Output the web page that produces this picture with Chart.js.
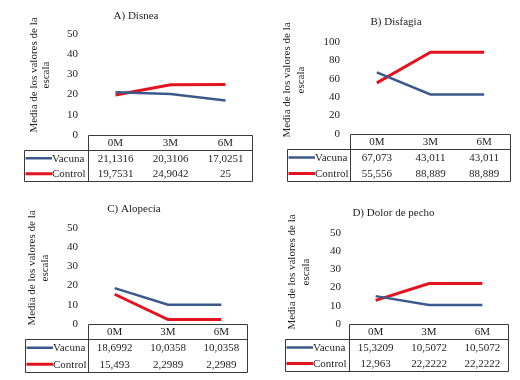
<!DOCTYPE html>
<html>
<head>
<meta charset="utf-8">
<script src="https://cdn.jsdelivr.net/npm/chart.js@4/dist/chart.umd.min.js"></script>
<style>
  html, body { margin: 0; padding: 0; background: #ffffff; }
  #wrap { position: relative; width: 520px; height: 380px; background: #fff; }
  canvas { position: absolute; }
</style>
</head>
<body>
<div id="wrap">
  <canvas id="cA" width="260" height="190" style="left:0;top:0"></canvas>
  <canvas id="cB" width="260" height="190" style="left:260px;top:0"></canvas>
  <canvas id="cC" width="260" height="190" style="left:0;top:190px"></canvas>
  <canvas id="cD" width="260" height="190" style="left:260px;top:190px"></canvas>
</div>
<script>
// ---- data ----
const months = ['0M', '3M', '6M'];
const seriesNames = ['Vacuna', 'Control'];
const panelTitles = ['A) Disnea', 'B) Disfagia', 'C) Alopecia', 'D) Dolor de pecho'];
const yAxisTitle = ['Media de los valores de la', 'escala'];
const yMax = [50, 100, 50, 50];
const yStep = [10, 20, 10, 10];

const vacunaDisnea = [21.1316, 20.3106, 17.0251];
const controlDisnea = [19.7531, 24.9042, 25];
const vacunaDisfagia = [67.073, 43.011, 43.011];
const controlDisfagia = [55.556, 88.889, 88.889];
const vacunaAlopecia = [18.6992, 10.0358, 10.0358];
const controlAlopecia = [15.493, 2.2989, 2.2989];
const vacunaDolor = [15.3209, 10.5072, 10.5072];
const controlDolor = [12.963, 22.2222, 22.2222];

// ---- styling / layout ----
const FONT = '"Liberation Serif", "Times New Roman", serif';
const TXT = '#1e1e1e';
const BLUE = '#3b5a8b';
const RED = '#e3131f';
const LINE = '#3a3a3a';

const panels = [
  { id: 'cA', vac: vacunaDisnea, ctl: controlDisnea,
    area: { left: 88, right: 253, top: 34, bottom: 135 }, titleY: 16, titleCx: 136,
    yt: { x1: 34, x2: 46, cy: 75 }, tickGap: 10, tableLeft: 24, tableBottom: 181 },
  { id: 'cB', vac: vacunaDisfagia, ctl: controlDisfagia,
    area: { left: 90, right: 251, top: 42, bottom: 134 }, titleY: 22, titleCx: 136,
    yt: { x1: 27, x2: 41, cy: 80 }, tickGap: 10, tableLeft: 27, tableBottom: 181 },
  { id: 'cC', vac: vacunaAlopecia, ctl: controlAlopecia,
    area: { left: 88, right: 248, top: 38, bottom: 134 }, titleY: 19, titleCx: 134,
    yt: { x1: 32, x2: 45, cy: 78 }, tickGap: 10, tableLeft: 25, tableBottom: 182 },
  { id: 'cD', vac: vacunaDolor, ctl: controlDolor,
    area: { left: 89, right: 249, top: 43, bottom: 134 }, titleY: 23, titleCx: 133.5,
    yt: { x1: 32, x2: 46, cy: 82 }, tickGap: 8, tableLeft: 25, tableBottom: 181 }
];

function fmt(v) { return String(v).replace('.', ','); }

function makeExtras(p) {
  return {
    id: 'extras_' + p.id,
    afterDraw(chart) {
      const ctx = chart.ctx;
      const ca = chart.chartArea;
      const xs = chart.scales.x;
      ctx.save();
      // y-axis title (two rotated lines)
      ctx.fillStyle = TXT;
      ctx.font = '11px ' + FONT;
      ctx.textAlign = 'center';
      ctx.textBaseline = 'middle';
      [p.yt.x1, p.yt.x2].forEach((x, i) => {
        ctx.save();
        ctx.translate(x, p.yt.cy);
        ctx.rotate(-Math.PI / 2);
        ctx.fillText(yAxisTitle[i], 0, 0);
        ctx.restore();
      });

      // data table
      const top = Math.round(ca.bottom) + 0.5;
      const bottom = p.tableBottom + 0.5;
      const headBottom = top + 15;
      const left = Math.round(ca.left) + 0.5;
      const right = Math.round(ca.right) - 0.5;
      const tLeft = p.tableLeft + 0.5;
      ctx.strokeStyle = LINE;
      ctx.lineWidth = 1;
      ctx.beginPath();
      ctx.moveTo(left, top); ctx.lineTo(right, top);
      ctx.moveTo(left, top); ctx.lineTo(left, bottom);
      ctx.moveTo(right, top); ctx.lineTo(right, bottom);
      ctx.moveTo(tLeft, headBottom); ctx.lineTo(right, headBottom);
      ctx.moveTo(tLeft, headBottom); ctx.lineTo(tLeft, bottom);
      ctx.moveTo(tLeft, bottom); ctx.lineTo(right, bottom);
      ctx.stroke();

      const rowH = (bottom - headBottom) / 2;
      const headY = (top + headBottom) / 2 + 0.5;
      const rowY = [headBottom + rowH * 0.5 + 0.5, headBottom + rowH * 1.5 + 0.5];
      ctx.fillStyle = TXT;
      ctx.font = '11px ' + FONT;
      ctx.textAlign = 'center';
      months.forEach((m, i) => {
        const cx = xs.getPixelForValue(i);
        ctx.fillText(m, cx, headY);
        ctx.fillText(fmt(p.vac[i]), cx, rowY[0]);
        ctx.fillText(fmt(p.ctl[i]), cx, rowY[1]);
      });
      // legend keys
      const keyEnd = tLeft + 27.5;
      [BLUE, RED].forEach((c, i) => {
        ctx.strokeStyle = c;
        ctx.lineWidth = i === 0 ? 2.5 : 3;
        ctx.beginPath();
        ctx.moveTo(tLeft + 1, rowY[i] - 0.5);
        ctx.lineTo(keyEnd, rowY[i] - 0.5);
        ctx.stroke();
        ctx.fillStyle = TXT;
        ctx.textAlign = 'left';
        ctx.fillText(seriesNames[i], keyEnd, rowY[i]);
      });
      ctx.restore();
    }
  };
}

panels.forEach((p, k) => {
  const lh = 11 * 1.2;
  const padL = 2 * p.titleCx - p.area.right;
  new Chart(document.getElementById(p.id), {
    type: 'line',
    data: {
      labels: months,
      datasets: [
        { label: seriesNames[0], data: p.vac, borderColor: BLUE, backgroundColor: BLUE,
          borderWidth: 2.5, pointRadius: 0, tension: 0, fill: false },
        { label: seriesNames[1], data: p.ctl, borderColor: RED, backgroundColor: RED,
          borderWidth: 3, pointRadius: 0, tension: 0, fill: false }
      ]
    },
    options: {
      responsive: false,
      animation: false,
      devicePixelRatio: 1,
      layout: {
        padding: { left: padL, right: 260 - p.area.right, top: 0, bottom: 190 - p.area.bottom }
      },
      plugins: {
        legend: { display: false },
        tooltip: { enabled: false },
        title: {
          display: true,
          text: panelTitles[k],
          color: TXT,
          font: { family: FONT, size: 11, weight: 'normal' },
          padding: { top: p.titleY - lh / 2, bottom: p.area.top - (p.titleY - lh / 2) - lh }
        }
      },
      scales: {
        x: {
          type: 'category',
          display: false,
          offset: true
        },
        y: {
          min: 0,
          max: yMax[k],
          border: { display: false },
          grid: { display: false, drawTicks: false },
          ticks: {
            stepSize: yStep[k],
            padding: p.tickGap,
            color: TXT,
            font: { family: FONT, size: 11 }
          },
          afterFit(scale) { scale.width = p.area.left - padL; }
        }
      }
    },
    plugins: [makeExtras(p)]
  });
});
</script>
</body>
</html>
